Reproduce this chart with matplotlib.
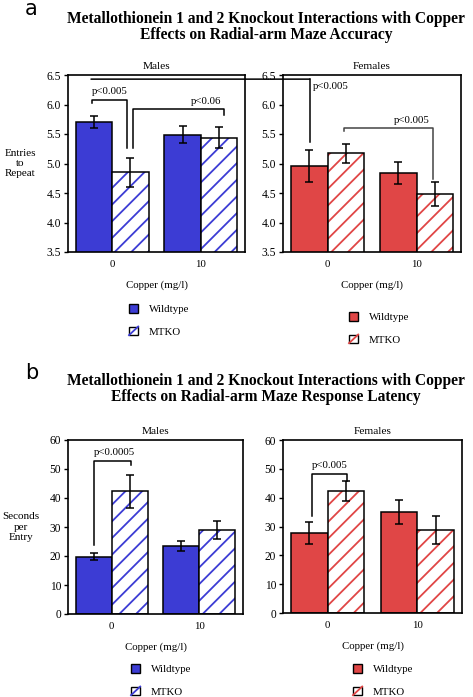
import matplotlib
matplotlib.use("Agg")
import matplotlib.pyplot as plt
from matplotlib.patches import Patch, Rectangle, ConnectionPatch
from matplotlib.legend_handler import HandlerBase
from matplotlib.lines import Line2D
import numpy as np

plt.rcParams['font.family'] = ['Liberation Serif', 'DejaVu Serif']
plt.rcParams['hatch.linewidth'] = 1.3

copper = ['0', '10']
groups = ['Wildtype', 'MTKO']

# panel a: entries to repeat
acc_m_wt = [5.71, 5.49]
acc_m_wt_err = [0.10, 0.14]
acc_m_ko = [4.85, 5.44]
acc_m_ko_err = [0.25, 0.18]
acc_f_wt = [4.96, 4.84]
acc_f_wt_err = [0.27, 0.18]
acc_f_ko = [5.17, 4.48]
acc_f_ko_err = [0.16, 0.20]

# panel b: seconds per entry
lat_m_wt = [19.8, 23.5]
lat_m_wt_err = [1.2, 1.7]
lat_m_ko = [42.3, 28.8]
lat_m_ko_err = [5.8, 3.1]
lat_f_wt = [27.8, 35.0]
lat_f_wt_err = [3.7, 4.3]
lat_f_ko = [42.3, 28.7]
lat_f_ko_err = [3.5, 4.9]

BLUE = '#3c3cd4'
RED = '#e04646'
W = 0.41
FS = 7.8

fig = plt.figure(figsize=(4.73, 6.97), dpi=100)


class HatchBox(HandlerBase):
    # white square with one diagonal stroke, like the small legend keys
    def create_artists(self, legend, orig, xd, yd, width, height, fontsize, trans):
        box = Rectangle((-xd, -yd), width, height, facecolor='white',
                        edgecolor='black', lw=1, transform=trans)
        diag = Line2D([-xd, -xd + width], [-yd, -yd + height], color=orig.get_edgecolor(),
                      lw=1.3, transform=trans)
        return [box, diag]


def panel(rect, wt, wt_err, ko, ko_err, color, title, ylim, yticks, yfmt, ylabel):
    ax = fig.add_axes(rect)
    x = np.arange(len(copper))
    ax.bar(x - W / 2, wt, W, color=color, edgecolor='black', linewidth=1.1, zorder=2)
    ax.bar(x + W / 2, ko, W, color='white', edgecolor=color, hatch='//', linewidth=0, zorder=2)
    ax.bar(x + W / 2, ko, W, fill=False, edgecolor='black', linewidth=1.1, zorder=3)
    ax.errorbar(x - W / 2, wt, yerr=wt_err, fmt='none', ecolor='black', elinewidth=1.1,
                capsize=3, capthick=1.1, zorder=4)
    ax.errorbar(x + W / 2, ko, yerr=ko_err, fmt='none', ecolor='black', elinewidth=1.1,
                capsize=3, capthick=1.1, zorder=4)
    ax.set_xlim(-0.5, 1.5)
    ax.set_ylim(*ylim)
    ax.set_xticks(x)
    ax.set_xticklabels(copper, fontsize=FS)
    ax.set_yticks(yticks)
    ax.set_yticklabels([yfmt.format(v) for v in yticks], fontsize=8.3)
    ax.tick_params(axis='x', length=0, pad=6)
    ax.tick_params(axis='y', length=3, width=1, pad=2)
    for s in ax.spines.values():
        s.set_linewidth(1.2)
    ax.set_title(title, fontsize=8.2, pad=4)
    ax.set_xlabel('Copper (mg/l)', fontsize=FS, labelpad=8)
    if ylabel:
        ax.set_ylabel(ylabel, rotation=0, fontsize=8, va='center', ha='center',
                      linespacing=1.15)
        ax.yaxis.set_label_coords(-0.27, 0.5)
    return ax


def bracket(ax, x0, x1, y, d0, d1, color='black'):
    ax.plot([x0, x0, x1, x1], [y - d0, y, y, y - d1], color=color, lw=1.1,
            clip_on=False, zorder=5)


def legend(ax, color, x, y):
    h_wt = Patch(facecolor=color, edgecolor='black', linewidth=1)
    h_ko = Patch(facecolor='white', edgecolor=color)
    ax.legend([h_wt, h_ko], groups, loc='upper left', bbox_to_anchor=(x / 473, 1 - y / 697),
              bbox_transform=fig.transFigure, frameon=False, fontsize=FS,
              handlelength=0.85, handleheight=0.85, handletextpad=1.0,
              labelspacing=1.15, borderpad=0, borderaxespad=0,
              handler_map={h_ko: HatchBox()})


# ---- panel a
yt_a = [3.5, 4.0, 4.5, 5.0, 5.5, 6.0, 6.5]
am = panel([68 / 473, 1 - 252 / 697, 177 / 473, 177 / 697], acc_m_wt, acc_m_wt_err,
           acc_m_ko, acc_m_ko_err, BLUE, 'Males', (3.5, 6.5), yt_a, '{:.1f}',
           'Entries\nto\nRepeat')
af = panel([283 / 473, 1 - 252 / 697, 178 / 473, 177 / 697], acc_f_wt, acc_f_wt_err,
           acc_f_ko, acc_f_ko_err, RED, 'Females', (3.5, 6.5), yt_a, '{:.1f}', None)

bracket(am, -0.23, 0.17, 6.08, 0.05, 0.82)
am.text(-0.23, 6.14, 'p<0.005', fontsize=FS, ha='left', va='bottom')
bracket(am, 0.24, 1.26, 5.92, 0.66, 0.1)
am.text(1.23, 5.97, 'p<0.06', fontsize=FS, ha='right', va='bottom')

con = ConnectionPatch(xyA=(-0.24, 6.43), coordsA=am.transData,
                      xyB=(-0.2, 6.43), coordsB=af.transData, color='black', lw=1.1)
fig.add_artist(con)
af.plot([-0.2, -0.2], [6.43, 5.36], color='black', lw=1.1, clip_on=False, zorder=5)
af.text(-0.16, 6.3, 'p<0.005', fontsize=FS, ha='left', va='center')
bracket(af, 0.19, 1.19, 5.60, 0.05, 0.86, color='#444444')
af.text(1.15, 5.66, 'p<0.005', fontsize=FS, ha='right', va='bottom')

legend(am, BLUE, 129, 304)
legend(af, RED, 349, 312)

# ---- panel b
yt_b = [0, 10, 20, 30, 40, 50, 60]
bm = panel([68 / 473, 1 - 614 / 697, 175 / 473, 174 / 697], lat_m_wt, lat_m_wt_err,
           lat_m_ko, lat_m_ko_err, BLUE, 'Males', (0, 60), yt_b, '{:d}',
           'Seconds\nper\nEntry')
bf = panel([283 / 473, 1 - 613 / 697, 179 / 473, 173 / 697], lat_f_wt, lat_f_wt_err,
           lat_f_ko, lat_f_ko_err, RED, 'Females', (0, 60), yt_b, '{:d}', None)

bracket(bm, -0.2, 0.22, 52.8, 29.0, 1.4)
bm.text(-0.2, 54.0, 'p<0.0005', fontsize=FS, ha='left', va='bottom')
bracket(bf, -0.18, 0.22, 48.3, 14.5, 2.5)
bf.text(-0.18, 49.5, 'p<0.005', fontsize=FS, ha='left', va='bottom')

legend(bm, BLUE, 131, 664)
legend(bf, RED, 353, 664)

# ---- titles and panel letters
fig.text(25 / 473, 1 - 9 / 697, 'a', fontsize=15, family='DejaVu Sans', va='center')
fig.text(266 / 473, 1 - 27 / 697,
         'Metallothionein 1 and 2 Knockout Interactions with Copper\n'
         'Effects on Radial-arm Maze Accuracy',
         fontsize=11.2, fontweight='bold', ha='center', va='center', linespacing=1.0)
fig.text(25 / 473, 1 - 373 / 697, 'b', fontsize=15, family='DejaVu Sans', va='center')
fig.text(266 / 473, 1 - 389 / 697,
         'Metallothionein 1 and 2 Knockout Interactions with Copper\n'
         'Effects on Radial-arm Maze Response Latency',
         fontsize=11.2, fontweight='bold', ha='center', va='center', linespacing=1.0)

fig.savefig('out.png', dpi=100)
